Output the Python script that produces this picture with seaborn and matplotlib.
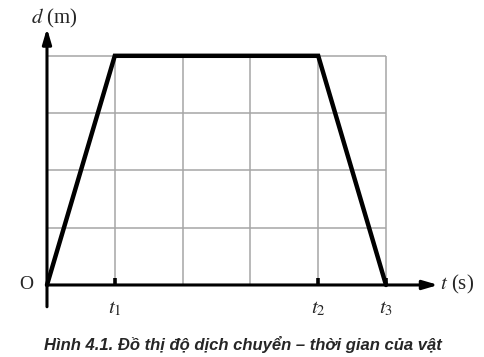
import matplotlib
matplotlib.use("Agg")
import matplotlib.pyplot as plt
import seaborn as sns
import pandas as pd

# Data
time_pts = [0, 1, 4, 5]
disp_pts = [0, 4, 4, 0]
grid_x = [1, 2, 3, 4, 5]
grid_y = [1, 2, 3, 4]
tick_pos = [1, 4, 5]
tick_labels = [r"$t_1$", r"$t_2$", r"$t_3$"]
caption = "Hình 4.1. Đồ thị độ dịch chuyển – thời gian của vật"

sns.set_theme(style="white")
plt.rcParams["mathtext.fontset"] = "stix"
plt.rcParams["font.family"] = ["Liberation Serif", "DejaVu Serif"]

fig = plt.figure(figsize=(4.85, 3.57), dpi=100)
ax = fig.add_axes([0, 0, 1, 1])
ax.set_xlim(-0.693, 6.46)
ax.set_ylim(-1.257, 4.974)
ax.axis("off")

# grid
ax.vlines(grid_x, 0, 4, color="#a6a6a6", lw=1.1, zorder=1)
ax.hlines(grid_y, 0, 5, color="#a6a6a6", lw=1.1, zorder=1)

# curve
df = pd.DataFrame({"t": time_pts, "d": disp_pts})
sns.lineplot(data=df, x="t", y="d", ax=ax, color="black", lw=3.2, sort=False,
             zorder=4, solid_joinstyle="miter")

# axes with arrows
ax.annotate("", xy=(0, 4.48), xytext=(0, -0.38),
            arrowprops=dict(arrowstyle="-|>,head_length=0.75,head_width=0.22",
                            lw=2.2, color="black", shrinkA=0, shrinkB=0), zorder=3)
ax.annotate("", xy=(5.77, 0), xytext=(0, 0),
            arrowprops=dict(arrowstyle="-|>,head_length=0.75,head_width=0.22",
                            lw=2.2, color="black", shrinkA=0, shrinkB=0), zorder=3)

# ticks
ax.vlines(tick_pos, 0, 0.13, color="black", lw=2.6, zorder=3)
for p, lab in zip(tick_pos, tick_labels):
    ax.text(p, -0.25, lab, ha="center", va="top", fontsize=15)

ax.text(-0.2, 0, "O", ha="right", va="center", fontsize=14)
ax.text(-0.24, 4.66, r"$d$ (m)", ha="left", va="center", fontsize=15)
ax.text(5.8, 0, r"$t$ (s)", ha="left", va="center", fontsize=15)

fig.text(0.5, 0.034, caption, ha="center", va="center", fontsize=12,
         fontweight="bold", fontstyle="italic",
         family=["Liberation Sans Narrow", "Liberation Sans", "DejaVu Sans"])

fig.savefig("out.png", dpi=100)
